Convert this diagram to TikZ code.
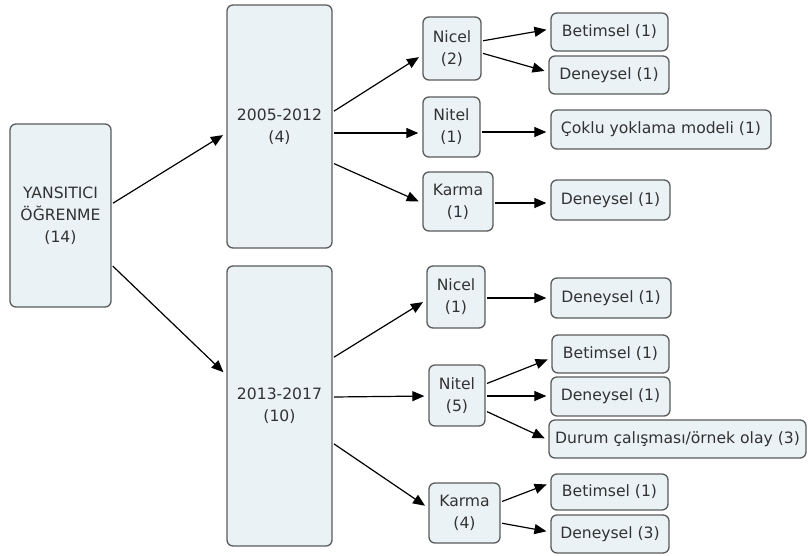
\documentclass[tikz,border=0pt]{standalone}
\usepackage{fontspec}
\setmainfont{DejaVu Sans}
\usetikzlibrary{arrows.meta}
\definecolor{boxfill}{RGB}{234,242,246}
\definecolor{boxdraw}{RGB}{90,90,90}
\definecolor{txt}{RGB}{50,50,50}
\tikzset{
  bx/.style={draw=boxdraw, fill=boxfill, line width=1.3pt, rounded corners=6pt,
    inner sep=0pt, align=center, text=txt,
    font=\fontsize{15.6pt}{22pt}\selectfont},
  arr/.style={-{Triangle[length=12pt,width=10pt]}, line width=1.2pt, black,
    shorten <=1.5pt, shorten >=4pt}
}
\begin{document}
\begin{tikzpicture}[x=1pt,y=-1pt]
\useasboundingbox (0,0) rectangle (808,555);
\node[bx, minimum width=101pt, minimum height=183pt] (root) at (60.5,215.5) {YANSITICI\\ÖĞRENME\\(14)};
\node[bx, minimum width=105pt, minimum height=243pt] (y1) at (279.5,126.5) {2005-2012\\(4)};
\node[bx, minimum width=105pt, minimum height=280pt] (y2) at (279.5,406) {2013-2017\\(10)};
\node[bx, minimum width=58pt, minimum height=63pt] (nicelA) at (452,48.5) {Nicel\\(2)};
\node[bx, minimum width=57pt, minimum height=60pt] (nitelA) at (451.5,127) {Nitel\\(1)};
\node[bx, minimum width=70pt, minimum height=59pt] (karmaA) at (458,201.5) {Karma\\(1)};
\node[bx, minimum width=117pt, minimum height=38pt] (betA) at (609.5,32) {Betimsel (1)};
\node[bx, minimum width=120pt, minimum height=38pt] (denA1) at (609,75) {Deneysel (1)};
\node[bx, minimum width=220pt, minimum height=39pt] (coklu) at (661,129.5) {Çoklu yoklama modeli (1)};
\node[bx, minimum width=119pt, minimum height=40pt] (denA2) at (610.5,200) {Deneysel (1)};
\node[bx, minimum width=58pt, minimum height=62pt] (nicelB) at (456,297) {Nicel\\(1)};
\node[bx, minimum width=120pt, minimum height=40pt] (denB1) at (611,298) {Deneysel (1)};
\node[bx, minimum width=56pt, minimum height=61pt] (nitelB) at (457,395.5) {Nitel\\(5)};
\node[bx, minimum width=117pt, minimum height=38pt] (betB) at (610.5,354) {Betimsel (1)};
\node[bx, minimum width=119pt, minimum height=39pt] (denB2) at (610.5,396.5) {Deneysel (1)};
\node[bx, minimum width=257pt, minimum height=38pt] (durum) at (677.5,439) {Durum çalışması/örnek olay (3)};
\node[bx, minimum width=71pt, minimum height=60pt] (karmaB) at (464.5,513) {Karma\\(4)};
\node[bx, minimum width=117pt, minimum height=36pt] (betB2) at (609.5,492) {Betimsel (1)};
\node[bx, minimum width=118pt, minimum height=38pt] (denB3) at (610,534) {Deneysel (3)};

\draw[arr] ([yshift=11.5pt]root.east) -- ([yshift=-6.5pt]y1.west);
\draw[arr] ([yshift=-49.5pt]root.east) -- ([yshift=31pt]y2.west);
\draw[arr] ([yshift=14.5pt]y1.east) -- ([yshift=-6.5pt]nicelA.west);
\draw[arr] ([yshift=-6.5pt]y1.east) -- ([yshift=-6pt]nitelA.west);
\draw[arr] ([yshift=-36.5pt]y1.east) -- ([yshift=-1.5pt]karmaA.west);
\draw[arr] ([yshift=7.5pt]nicelA.east) -- ([yshift=3pt]betA.west);
\draw[arr] ([yshift=-4.5pt]nicelA.east) -- ([yshift=3pt]denA1.west);
\draw[arr] ([yshift=-5pt]nitelA.east) -- ([yshift=-2.5pt]coklu.west);
\draw[arr] ([yshift=-1.5pt]karmaA.east) -- ([yshift=-3pt]denA2.west);
\draw[arr] ([yshift=48pt]y2.east) -- ([yshift=-3pt]nicelB.west);
\draw[arr] ([yshift=9pt]y2.east) -- ([yshift=-0.5pt]nitelB.west);
\draw[arr] ([yshift=-37pt]y2.east) -- ([yshift=5pt]karmaB.west);
\draw[arr] ([yshift=-1pt]nicelB.east) -- ([yshift=0pt]denB1.west);
\draw[arr] ([yshift=11.5pt]nitelB.east) -- ([yshift=-4pt]betB.west);
\draw[arr] ([yshift=-0.5pt]nitelB.east) -- ([yshift=0.5pt]denB2.west);
\draw[arr] ([yshift=-15.5pt]nitelB.east) -- ([yshift=-1pt]durum.west);
\draw[arr] ([yshift=11pt]karmaB.east) -- ([yshift=9pt]betB2.west);
\draw[arr] ([yshift=-10pt]karmaB.east) -- ([yshift=2pt]denB3.west);
\end{tikzpicture}
\end{document}
